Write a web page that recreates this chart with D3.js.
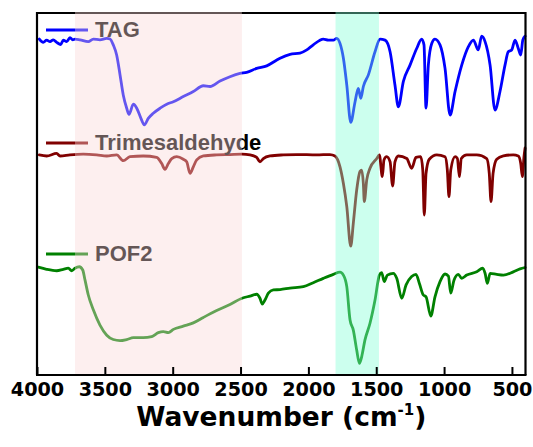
<!DOCTYPE html>
<html><head><meta charset="utf-8">
<script src="https://cdn.jsdelivr.net/npm/d3@7"></script>
<style>body{margin:0;background:#fff}svg{display:block}</style>
</head><body><svg id="c" width="533" height="447"></svg>
<script>
// ---------- data ----------
const seriesNames = ["TAG", "Trimesaldehyde", "POF2"];
const xTicks = [4000, 3500, 3000, 2500, 2000, 1500, 1000, 500];
const xTitle = "Wavenumber (cm";
const xTitleSup = "-1";
// shaded bands [from, to] in cm-1
const bandPink = [3720, 2490];
const bandCyan = [1800, 1480];

// [wavenumber, offset transmittance (a.u.)]
const tagSpectrum = [[3983,92.8],[3954,91.9],[3929,92.5],[3904,92.1],[3880,92.6],[3855,91.9],[3825,91.3],[3806,92.5],[3781,92.1],[3757,93.2],[3737,92.6],[3720,92.8],[3683,92.6],[3622,92.1],[3585,92.8],[3536,92.6],[3486,93.0],[3462,92.8],[3438,91.2],[3413,88.4],[3388,82.9],[3364,77.3],[3339,73.7],[3322,72.0],[3290,74.8],[3265,73.7],[3234,70.9],[3209,69.1],[3180,70.9],[3143,72.3],[3093,73.7],[3044,74.8],[2995,75.5],[2922,76.9],[2848,78.3],[2774,79.9],[2725,79.7],[2651,81.2],[2578,82.4],[2504,83.3],[2455,83.6],[2381,84.7],[2307,85.4],[2233,87.0],[2209,87.5],[2135,88.6],[2062,88.9],[2012,89.8],[1964,91.2],[1890,92.8],[1853,92.5],[1816,92.5],[1791,93.0],[1767,91.6],[1742,87.5],[1717,80.1],[1688,69.8],[1656,75.5],[1632,79.2],[1614,76.4],[1595,79.7],[1558,82.9],[1509,89.3],[1472,92.8],[1435,92.5],[1398,89.3],[1362,80.1],[1337,74.1],[1300,81.1],[1251,85.6],[1202,90.2],[1165,92.8],[1148,91.2],[1133,73.7],[1116,85.6],[1091,91.6],[1067,92.8],[1030,91.2],[993,84.7],[956,71.8],[919,78.3],[870,85.6],[821,90.7],[784,92.5],[748,89.8],[723,93.6],[698,92.1],[661,85.6],[625,73.2],[588,78.3],[551,85.6],[527,89.3],[502,89.8],[477,92.5],[453,90.2],[435,88.4],[420,92.5],[403,93.6]];

const trimesaldehydeSpectrum = [[3983,60.8],[3929,60.5],[3855,61.2],[3830,60.5],[3757,60.8],[3659,61.0],[3560,60.8],[3486,60.5],[3413,60.8],[3364,59.2],[3315,60.3],[3217,60.5],[3118,60.1],[3081,58.4],[3057,56.8],[3032,58.4],[3007,59.8],[2970,60.3],[2922,59.6],[2897,58.9],[2872,55.7],[2848,57.5],[2823,59.4],[2774,60.5],[2676,60.8],[2578,60.9],[2489,61.0],[2430,60.8],[2381,60.1],[2357,58.9],[2332,59.8],[2283,60.5],[2185,60.8],[2086,60.9],[1939,60.8],[1841,60.9],[1804,60.5],[1767,57.5],[1742,52.9],[1717,46.5],[1688,35.6],[1669,41.9],[1644,51.1],[1620,56.2],[1607,56.6],[1595,52.9],[1588,47.9],[1570,53.9],[1546,57.1],[1496,59.8],[1477,60.8],[1455,54.8],[1443,59.4],[1423,60.3],[1398,58.9],[1379,52.2],[1362,58.9],[1337,60.5],[1275,59.8],[1239,57.1],[1207,60.1],[1172,60.3],[1157,56.6],[1146,44.2],[1133,55.7],[1109,59.6],[1054,60.8],[993,60.3],[976,56.6],[964,49.3],[951,56.6],[919,60.3],[902,59.8],[887,54.8],[873,59.8],[833,60.8],[759,60.8],[686,59.8],[667,55.7],[654,47.9],[639,55.7],[612,59.6],[563,60.5],[490,60.8],[453,60.5],[435,58.4],[423,54.8],[411,60.3],[403,62.7]];

const pof2Spectrum = [[3990,29.8],[3929,29.2],[3855,28.8],[3806,29.2],[3769,29.5],[3744,28.8],[3720,29.5],[3688,29.9],[3663,29.0],[3646,26.2],[3622,22.1],[3585,18.0],[3536,13.8],[3486,11.0],[3438,9.8],[3388,9.5],[3339,9.8],[3290,10.3],[3217,10.3],[3155,10.6],[3106,11.7],[3069,12.0],[3032,11.7],[2995,12.6],[2922,13.5],[2848,14.4],[2774,15.9],[2676,17.8],[2578,19.5],[2489,21.2],[2430,21.8],[2381,22.3],[2357,21.2],[2340,19.6],[2320,20.7],[2295,22.6],[2258,23.5],[2209,23.6],[2135,24.0],[2037,24.4],[1964,25.5],[1890,26.7],[1816,27.8],[1767,28.4],[1742,27.6],[1717,24.4],[1693,15.2],[1669,12.4],[1644,6.9],[1624,3.2],[1607,5.1],[1583,9.7],[1546,14.3],[1509,20.7],[1477,27.6],[1460,28.3],[1441,25.8],[1418,27.6],[1374,28.1],[1349,26.7],[1312,21.2],[1280,24.9],[1239,27.2],[1207,27.8],[1182,25.3],[1153,22.1],[1133,21.6],[1098,16.3],[1067,21.6],[1030,25.8],[993,27.9],[968,27.3],[951,22.6],[927,26.2],[895,27.8],[870,26.7],[833,27.6],[759,28.5],[715,29.5],[698,28.1],[681,25.3],[661,28.1],[612,27.8],[563,27.6],[490,28.5],[440,29.3],[403,29.7]];

// ---------- layout / style ----------
const colors = ["#0000ff", "#800000", "#008000"];
const legendRows = [30, 143, 254];
const M = {left: 37, right: 525.5, top: 13, bottom: 375};

const svg = d3.select("#c");
const x = d3.scaleLinear().domain([4000, 400]).range([M.left, M.right]);
const y = d3.scaleLinear().domain([0, 100]).range([M.bottom, M.top]);

const line = d3.line()
  .x(d => x(d[0])).y(d => y(d[1]))
  .curve(d3.curveMonotoneX);

const spectra = [tagSpectrum, trimesaldehydeSpectrum, pof2Spectrum];
spectra.forEach((s, i) => {
  svg.append("path").datum(s)
    .attr("d", line)
    .attr("fill", "none")
    .attr("stroke", colors[i])
    .attr("stroke-width", 2.8)
    .attr("stroke-linejoin", "round")
    .attr("stroke-linecap", "round");
});

// legend
seriesNames.forEach((n, i) => {
  const ly = legendRows[i];
  svg.append("line")
    .attr("x1", 46).attr("x2", 88).attr("y1", ly).attr("y2", ly)
    .attr("stroke", colors[i]).attr("stroke-width", 2.8);
  svg.append("text")
    .attr("x", 95).attr("y", ly + 7)
    .attr("font-family", "Arial, 'Liberation Sans', sans-serif")
    .attr("font-weight", "bold")
    .attr("font-size", 22)
    .attr("fill", "#000")
    .text(n);
});

// frame (left, top, right)
svg.append("path")
  .attr("d", `M${M.left},${M.bottom} V${M.top} H${M.right} V${M.bottom}`)
  .attr("fill", "none").attr("stroke", "#000").attr("stroke-width", 2.2);

// shaded bands on top (semi-transparent)
svg.append("rect")
  .attr("x", x(bandPink[0])).attr("width", x(bandPink[1]) - x(bandPink[0]))
  .attr("y", M.top - 1).attr("height", M.bottom - M.top)
  .attr("fill", "rgb(250,216,216)").attr("fill-opacity", 0.4);
svg.append("rect")
  .attr("x", x(bandCyan[0])).attr("width", x(bandCyan[1]) - x(bandCyan[0]))
  .attr("y", M.top - 1).attr("height", M.bottom - M.top)
  .attr("fill", "rgb(127,255,212)").attr("fill-opacity", 0.4);

// bottom axis
const xAxis = d3.axisBottom(x).tickValues(xTicks).tickSizeInner(-8).tickSizeOuter(0).tickPadding(7.5)
  .tickFormat(d3.format("d"));
const gx = svg.append("g").attr("transform", `translate(0,${M.bottom})`).call(xAxis);
gx.select(".domain").attr("stroke", "#000").attr("stroke-width", 2.2)
  .attr("d", `M${M.left - 1},0H${M.right + 1}`);
gx.selectAll(".tick line").attr("stroke", "#000").attr("stroke-width", 2);
gx.selectAll(".tick text")
  .attr("font-family", "'DejaVu Sans', Verdana, sans-serif")
  .attr("font-weight", "bold")
  .attr("font-size", 19.2)
  .attr("fill", "#000");

// axis title
const t = svg.append("text")
  .attr("x", (M.left + M.right) / 2).attr("y", 425.5)
  .attr("text-anchor", "middle")
  .attr("font-family", "'DejaVu Sans', Verdana, sans-serif")
  .attr("font-weight", "bold")
  .attr("font-size", 26.5)
  .attr("fill", "#000");
t.append("tspan").text(xTitle);
t.append("tspan").attr("font-size", 15).attr("dy", -11).text(xTitleSup);
t.append("tspan").attr("dy", 11).text(")");
</script>
</body></html>
